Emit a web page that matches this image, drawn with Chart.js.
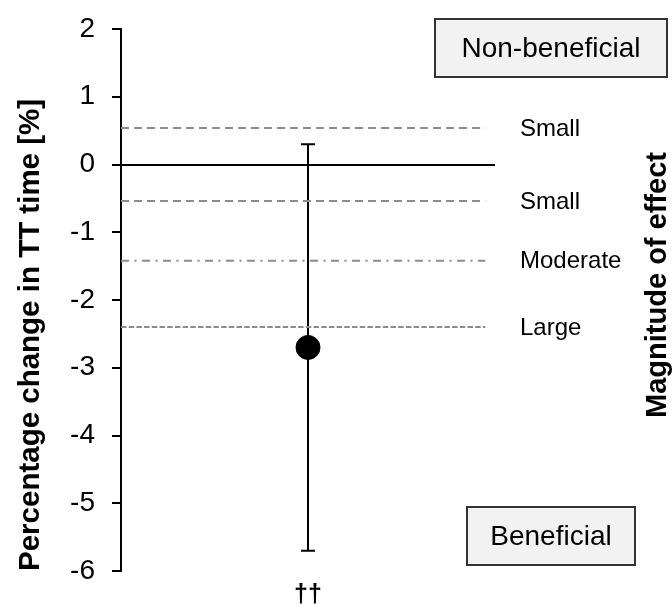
<!DOCTYPE html>
<html>
<head>
<meta charset="utf-8">
<script src="https://cdn.jsdelivr.net/npm/chart.js@4.4.1/dist/chart.umd.min.js"></script>
<style>
  html, body { margin: 0; padding: 0; background: #fff; }
  canvas { display: block; }
</style>
</head>
<body>
<canvas id="effectChart" width="672" height="604"></canvas>
<script>
// data
var groups = ['\u2020\u2020'];
var groupPositions = [5];
var means = [-2.7];
var ciUpper = [0.3];
var ciLower = [-5.7];

var thresholdValues = [0.54, -0.54, -1.42, -2.4];
var thresholdLabels = ['Small', 'Small', 'Moderate', 'Large'];
var thresholdDashes = [[8, 5], [8, 5], [8, 5.5, 2, 5.5], [5.5, 2.2]];

var yMin = -6;
var yMax = 2;
var xMin = 0;
var xMax = 10;
var thresholdEnd = 9.74;

var FONT = "'Liberation Sans', Arial, sans-serif";

function thresholdDataset(value, i) {
  return {
    type: 'line',
    data: [{ x: xMin, y: value }, { x: thresholdEnd, y: value }],
    borderColor: '#8c8c8c',
    borderWidth: 2,
    borderDash: thresholdDashes[i],
    pointRadius: 0,
    fill: false,
    order: 3
  };
}

var datasets = thresholdValues.map(thresholdDataset);
datasets.push({
  type: 'scatter',
  data: groupPositions.map(function(x, i) { return { x: x, y: means[i] }; }),
  backgroundColor: '#000',
  borderColor: '#000',
  pointRadius: 12,
  order: 1
});

// error bars, threshold names, boxes and the right-hand title
var annotations = {
  id: 'annotations',
  beforeDatasetsDraw: function(chart) {
    var ctx = chart.ctx;
    var x = chart.scales.x;
    var y = chart.scales.y;
    ctx.save();
    ctx.strokeStyle = '#000';
    ctx.lineWidth = 2;
    groupPositions.forEach(function(pos, i) {
      var px = x.getPixelForValue(pos);
      var top = y.getPixelForValue(ciUpper[i]);
      var bottom = y.getPixelForValue(ciLower[i]);
      ctx.beginPath();
      ctx.moveTo(px, top);
      ctx.lineTo(px, bottom);
      ctx.moveTo(px - 7, top);
      ctx.lineTo(px + 7, top);
      ctx.moveTo(px - 7, bottom);
      ctx.lineTo(px + 7, bottom);
      ctx.stroke();
    });
    ctx.restore();
  },
  afterDraw: function(chart) {
    var ctx = chart.ctx;
    var y = chart.scales.y;
    var area = chart.chartArea;
    ctx.save();

    ctx.fillStyle = '#000';
    ctx.font = '24px ' + FONT;
    ctx.textAlign = 'left';
    ctx.textBaseline = 'middle';
    thresholdValues.forEach(function(v, i) {
      ctx.fillText(thresholdLabels[i], area.right + 25, y.getPixelForValue(v) + 1);
    });

    function box(text, left, top, w, h) {
      ctx.fillStyle = '#f2f2f2';
      ctx.fillRect(left, top, w, h);
      ctx.strokeStyle = '#333';
      ctx.lineWidth = 2;
      ctx.strokeRect(left, top, w, h);
      ctx.fillStyle = '#000';
      ctx.font = '28px ' + FONT;
      ctx.textAlign = 'center';
      ctx.textBaseline = 'middle';
      ctx.fillText(text, left + w / 2, top + h / 2 + 1);
    }
    box('Non-beneficial', 435, 19, 232, 58);
    box('Beneficial', 467, 507, 168, 58);

    ctx.translate(658, 285);
    ctx.rotate(-Math.PI / 2);
    ctx.font = 'bold 29px ' + FONT;
    ctx.textAlign = 'center';
    ctx.textBaseline = 'middle';
    ctx.fillText('Magnitude of effect', 0, 0);
    ctx.restore();
  }
};

var chart = new Chart(document.getElementById('effectChart'), {
  type: 'scatter',
  data: { datasets: datasets },
  options: {
    responsive: false,
    animation: false,
    layout: { padding: { top: 29, right: 177, bottom: 0, left: 0 } },
    plugins: {
      legend: { display: false },
      tooltip: { enabled: false }
    },
    scales: {
      x: {
        type: 'linear',
        min: xMin,
        max: xMax,
        grid: { display: false, drawTicks: false },
        border: { display: false },
        afterBuildTicks: function(scale) {
          scale.ticks = groupPositions.map(function(v) { return { value: v }; });
        },
        afterFit: function(scale) { scale.height = 33; },
        ticks: {
          autoSkip: false,
          maxRotation: 0,
          padding: 9,
          color: '#000',
          font: { family: FONT, size: 25, weight: 'bold' },
          callback: function(value, index) { return groups[index]; }
        }
      },
      y: {
        min: yMin,
        max: yMax,
        afterFit: function(scale) {
          scale.width = 121;
          scale.paddingTop = 16;
          scale.paddingBottom = 16;
        },
        ticks: {
          stepSize: 1,
          padding: 17,
          color: '#000',
          font: { family: FONT, size: 28 }
        },
        grid: {
          color: function(c) { return c.tick && c.tick.value === 0 ? '#000' : 'rgba(0,0,0,0)'; },
          tickColor: '#000',
          lineWidth: 2,
          tickWidth: 2,
          tickLength: 9
        },
        border: { color: '#000', width: 2 },
        title: {
          display: true,
          text: 'Percentage change in TT time [%]',
          align: 'start',
          color: '#000',
          font: { family: FONT, size: 29.5, weight: 'bold' },
          padding: { top: 13, bottom: 0 }
        }
      }
    }
  },
  plugins: [annotations]
});
</script>
</body>
</html>
